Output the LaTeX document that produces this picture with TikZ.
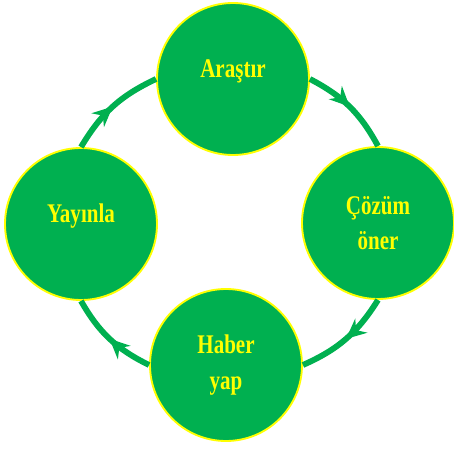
\documentclass[tikz,border=0pt]{standalone}
\usepackage{fontspec}
\setmainfont{Liberation Serif}[FakeStretch=0.78]
\usetikzlibrary{arrows.meta,decorations.markings}
\definecolor{stagegreen}{HTML}{00B050}
\definecolor{stageyellow}{HTML}{FFFF00}

\begin{document}
\begin{tikzpicture}[x=0.03cm,y=0.03cm,
    stage/.style={circle,draw=stageyellow,line width=1.6pt,fill=stagegreen,
        minimum size=4.56cm,inner sep=0pt,align=center,text=stageyellow,
        font=\fontsize{23}{30}\selectfont\bfseries},
    raised/.style={text height=0.58cm,text depth=0.66cm},
    flow/.style={color=stagegreen,line width=5pt,postaction={decorate},
        decoration={markings,mark=at position 0.5 with
        {\arrow{Stealth[length=6mm,width=5.5mm,inset=2mm]}}}}]
    % Fix the frame
    \useasboundingbox (-229,-228) rectangle (225,223);

    % Draw the four stages
    \node[stage,raised] (arastir) at (4,144) {Araştır};
    \node[stage] (cozum) at (149,0) {Çözüm\\öner};
    \node[stage] (haber) at (-3,-142) {Haber\\yap};
    \node[stage,raised] (yayinla) at (-148,-1) {Yayınla};

    % Draw the cycle
    \draw[flow] (arastir.0) to[bend left=17] (cozum.90);
    \draw[flow] (cozum.-90) to[bend left=17] (haber.0);
    \draw[flow] (haber.180) to[bend left=17] (yayinla.-90);
    \draw[flow] (yayinla.90) to[bend left=17] (arastir.180);
\end{tikzpicture}
\end{document}
